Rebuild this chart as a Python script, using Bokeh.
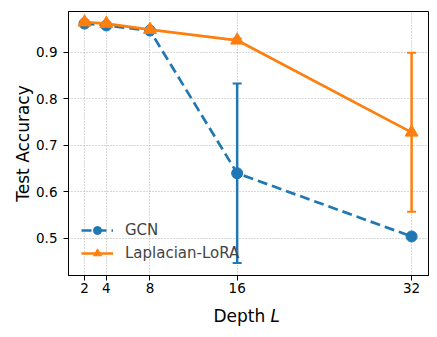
from bokeh.plotting import figure
from bokeh.layouts import column
from bokeh.models import Range1d, FixedTicker, Legend, LegendItem
from bokeh.core.properties import value
from bokeh.embed import file_html
from bokeh.resources import INLINE

depth = [2, 4, 8, 16, 32]
gcn_mean = [0.962, 0.958, 0.947, 0.640, 0.504]
gcn_err = [0.003, 0.003, 0.003, 0.193, 0.003]
lora_mean = [0.965, 0.962, 0.949, 0.926, 0.728]
lora_err = [0.003, 0.003, 0.003, 0.004, 0.171]
x_ticks = [2, 4, 8, 16, 32]
y_ticks = [0.5, 0.6, 0.7, 0.8, 0.9]

BLUE = "#1f77b4"
ORANGE = "#ff7f0e"
FONT = "DejaVu Sans"

W = 437
H_MAIN = 301
H_LABEL = 36

p = figure(width=W, height=H_MAIN, output_backend="svg", toolbar_location=None,
           x_range=Range1d(0.53, 33.55), y_range=Range1d(0.42, 0.988),
           min_border_left=68, min_border_top=11, min_border_right=9, min_border_bottom=26)
p.background_fill_color = "white"
p.border_fill_color = "white"
p.outline_line_color = "black"
p.outline_line_width = 1

for ax in (p.xaxis[0], p.yaxis[0]):
    ax.axis_line_color = "black"
    ax.major_tick_line_color = "black"
    ax.major_tick_out = 5
    ax.major_tick_in = 0
    ax.minor_tick_line_color = None
    ax.major_label_text_font = FONT
    ax.major_label_text_font_size = "13.5px"
    ax.major_label_text_color = "black"
    ax.axis_label_text_font = FONT
    ax.axis_label_text_font_size = "17px"
    ax.axis_label_text_font_style = "normal"
    ax.axis_label_text_color = "black"

p.xaxis[0].major_label_standoff = 2
p.yaxis[0].major_label_standoff = 6
p.xaxis[0].ticker = FixedTicker(ticks=x_ticks)
p.yaxis[0].ticker = FixedTicker(ticks=y_ticks)
p.yaxis[0].axis_label = "Test Accuracy"
p.yaxis[0].axis_label_standoff = 0

for g in (p.xgrid[0], p.ygrid[0]):
    g.grid_line_color = "#b0b0b0"
    g.grid_line_dash = "1 2"
    g.grid_line_width = 1

gcn_lo = [m - e for m, e in zip(gcn_mean, gcn_err)]
gcn_hi = [m + e for m, e in zip(gcn_mean, gcn_err)]
lora_lo = [m - e for m, e in zip(lora_mean, lora_err)]
lora_hi = [m + e for m, e in zip(lora_mean, lora_err)]

# GCN
p.segment(x0=depth, y0=gcn_lo, x1=depth, y1=gcn_hi, line_color=BLUE, line_width=2.5)
p.scatter(x=depth, y=gcn_lo, marker="dash", size=9, line_color=BLUE, line_width=2)
p.scatter(x=depth, y=gcn_hi, marker="dash", size=9, line_color=BLUE, line_width=2)
gl = p.line(x=depth, y=gcn_mean, line_color=BLUE, line_width=2.7, line_dash="10 5")
gs = p.scatter(x=depth, y=gcn_mean, marker="circle", size=11, fill_color=BLUE, line_color=BLUE)

# Laplacian-LoRA
p.segment(x0=depth, y0=lora_lo, x1=depth, y1=lora_hi, line_color=ORANGE, line_width=2.5)
p.scatter(x=depth, y=lora_lo, marker="dash", size=9, line_color=ORANGE, line_width=2)
p.scatter(x=depth, y=lora_hi, marker="dash", size=9, line_color=ORANGE, line_width=2)
ll = p.line(x=depth, y=lora_mean, line_color=ORANGE, line_width=2.7)
ls = p.scatter(x=depth, y=lora_mean, marker="triangle", size=13, fill_color=ORANGE, line_color=ORANGE)

legend = Legend(items=[LegendItem(label="GCN", renderers=[gl, gs]),
                       LegendItem(label="Laplacian-LoRA", renderers=[ll, ls])],
                location=(7, 6))
legend.background_fill_alpha = 0
legend.border_line_alpha = 0
legend.label_text_font = FONT
legend.label_text_font_size = "15px"
legend.glyph_width = 32
legend.label_standoff = 12
legend.spacing = 3
legend.padding = 6
legend.label_height = 20
legend.glyph_height = 20
p.add_layout(legend, "center")

# x-axis title strip ("Depth L" with italic L); its frame aligns with the main frame
q = figure(width=W, height=H_LABEL, output_backend="svg", toolbar_location=None,
           x_range=Range1d(68, 428), y_range=Range1d(0, H_LABEL),
           min_border=0, min_border_left=68, min_border_right=9,
           min_border_top=0, min_border_bottom=0)
q.axis.visible = False
q.grid.visible = False
q.outline_line_color = None
q.background_fill_color = "white"
q.border_fill_color = "white"
q.text(x=[213], y=[22], text=["Depth"], text_font=value(FONT), text_font_size="17px",
       text_color="black", text_baseline="middle", text_align="left")
q.text(x=[270], y=[22], text=["L"], text_font=value(FONT), text_font_size="17px",
       text_font_style="italic", text_color="black", text_baseline="middle", text_align="left")

layout = column(p, q, spacing=0)
open("out.html", "w").write(file_html(layout, INLINE))
